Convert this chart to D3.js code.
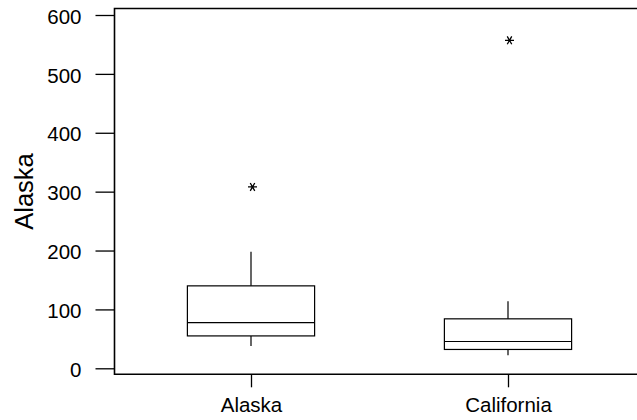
<!DOCTYPE html>
<html>
<head>
<meta charset="utf-8">
<script src="https://cdn.jsdelivr.net/npm/d3@7"></script>
<style>
  body { margin: 0; background: #fff; }
  svg { display: block; font-family: "Liberation Sans", Arial, sans-serif; }
</style>
</head>
<body>
<div id="chart"></div>
<script>
var categories = ["Alaska", "California"];
var whiskerLow = [38, 22];
var q1 = [55, 32];
var median = [77.5, 45.5];
var q3 = [140, 84];
var whiskerHigh = [198, 114];
var outliers = [[308], [557]];
var yTicks = [0, 100, 200, 300, 400, 500, 600];

var width = 637, height = 420;
var frame = {left: 114.5, top: 8.5, bottom: 374.3};

var svg = d3.select("#chart").append("svg").attr("width", width).attr("height", height);

var y = d3.scaleLinear().domain([0, 600]).range([368.3, 15]);
var x = d3.scalePoint().domain(categories).range([122.5, 636.5]).padding(0.5);
var boxW = x.step() * 0.495;

var boxes = categories.map(function(c, i) {
    return {cat: c, lo: whiskerLow[i], q1: q1[i], med: median[i], q3: q3[i], hi: whiskerHigh[i], out: outliers[i]};
});

// frame (open on the right)
svg.append("path")
    .attr("d", "M" + (width + 5) + "," + frame.top + "H" + frame.left + "V" + frame.bottom + "H" + (width + 5))
    .attr("fill", "none").attr("stroke", "#000").attr("stroke-width", 1.6);

var yAxis = svg.append("g").attr("transform", "translate(" + frame.left + ",0)")
    .call(d3.axisLeft(y).tickValues(yTicks).tickSize(19).tickPadding(14));
yAxis.select(".domain").remove();
yAxis.selectAll("line").attr("stroke", "#000").attr("stroke-width", 1.3);
yAxis.selectAll("text").attr("font-size", "20.5px").attr("fill", "#000").attr("dy", "0.4em")
    .style("font-family", "'Liberation Sans', Arial, sans-serif");

var xAxis = svg.append("g").attr("transform", "translate(0," + frame.bottom + ")")
    .call(d3.axisBottom(x).tickSize(13).tickPadding(10));
xAxis.select(".domain").remove();
xAxis.selectAll("line").attr("stroke", "#000").attr("stroke-width", 1.3);
xAxis.selectAll("text").attr("font-size", "20.5px").attr("fill", "#000")
    .style("font-family", "'Liberation Sans', Arial, sans-serif");

svg.append("text")
    .attr("transform", "translate(33,191.5) rotate(-90)")
    .attr("text-anchor", "middle")
    .attr("font-size", "25.5px")
    .text("Alaska");

var g = svg.selectAll(".box").data(boxes).enter().append("g").attr("class", "box");

g.append("line")
    .attr("x1", d => x(d.cat)).attr("x2", d => x(d.cat))
    .attr("y1", d => y(d.q3)).attr("y2", d => y(d.hi))
    .attr("stroke", "#000").attr("stroke-width", 1.2);
g.append("line")
    .attr("x1", d => x(d.cat)).attr("x2", d => x(d.cat))
    .attr("y1", d => y(d.q1)).attr("y2", d => y(d.lo))
    .attr("stroke", "#000").attr("stroke-width", 1.2);
g.append("rect")
    .attr("x", d => x(d.cat) - boxW / 2).attr("width", boxW)
    .attr("y", d => y(d.q3)).attr("height", d => y(d.q1) - y(d.q3))
    .attr("fill", "none").attr("stroke", "#000").attr("stroke-width", 1.2);
g.append("line")
    .attr("x1", d => x(d.cat) - boxW / 2).attr("x2", d => x(d.cat) + boxW / 2)
    .attr("y1", d => y(d.med)).attr("y2", d => y(d.med))
    .attr("stroke", "#000").attr("stroke-width", 1.2);

// asterisk outliers
var r = 4.5;
function star() {
    var a = r * Math.cos(Math.PI / 3), b = r * Math.sin(Math.PI / 3);
    return "M" + (-r) + ",0H" + r + "M" + (-a) + "," + (-b) + "L" + a + "," + b + "M" + (-a) + "," + b + "L" + a + "," + (-b);
}
g.selectAll(".out").data(d => d.out.map(v => ({cat: d.cat, v: v}))).enter().append("path")
    .attr("class", "out")
    .attr("transform", d => "translate(" + (x(d.cat) + 1.5) + "," + y(d.v) + ")")
    .attr("d", star())
    .attr("fill", "none").attr("stroke", "#000").attr("stroke-width", 1.3);
</script>
</body>
</html>
